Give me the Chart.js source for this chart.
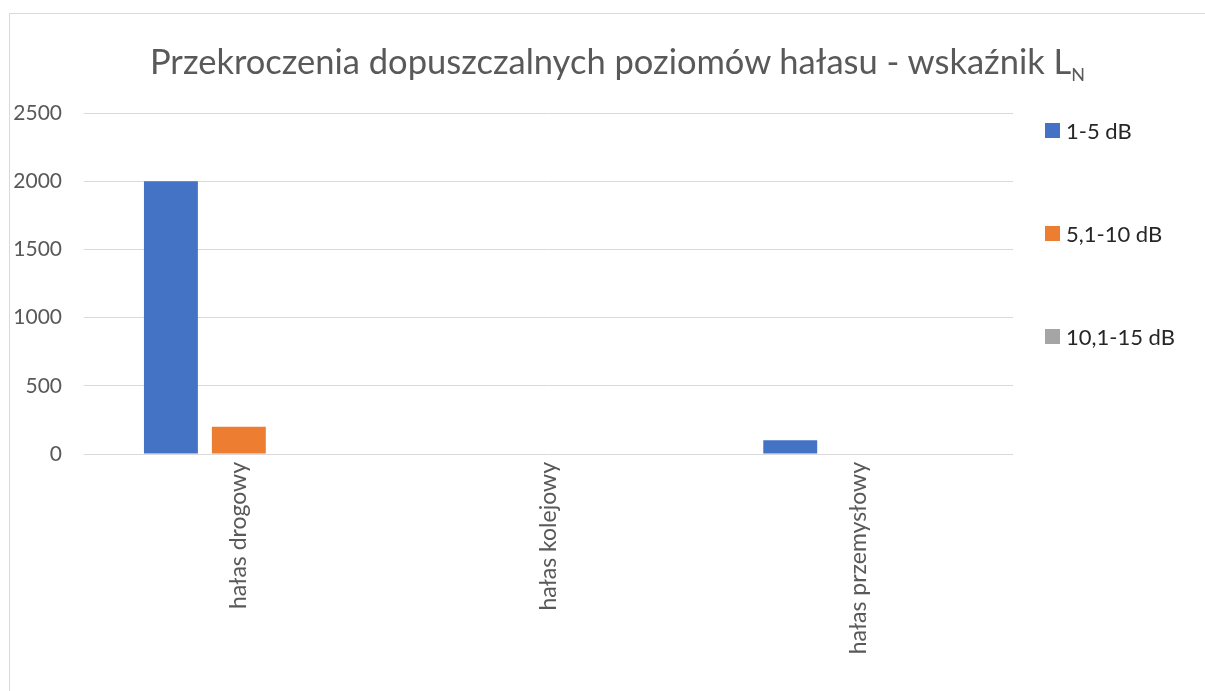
<!DOCTYPE html>
<html>
<head>
<meta charset="utf-8">
<script src="https://cdn.jsdelivr.net/npm/chart.js@4"></script>
<style>
  body { margin: 0; background: #fff; }
  #wrap { position: relative; width: 1205px; height: 691px; overflow: hidden; }
  #frame { position: absolute; left: 9px; top: 13px; width: 1300px; height: 800px; border: 1px solid #d9d9d9; box-sizing: border-box; }
  #title { position: absolute; left: 0; width: 1235px; top: 61px; text-align: center; font-family: Lato, sans-serif; font-size: 34.5px; line-height: 0; color: #595959; white-space: nowrap; }
  #title sub { font-size: 18px; vertical-align: -7px; line-height: 0; }
  #legend { position: absolute; left: 1045px; top: 0; font-family: Lato, sans-serif; font-size: 22px; color: #262626; }
  .item { position: absolute; left: 0; white-space: nowrap; display: flex; align-items: center; height: 26px; }
  .box { width: 15px; height: 15px; margin-right: 6px; }
  canvas { position: absolute; left: 0; top: 0; }
</style>
</head>
<body>
<div id="wrap">
  <div id="frame"></div>
  <canvas id="chartData" width="1205" height="691"></canvas>
  <div id="title">Przekroczenia dopuszczalnych poziomów hałasu - wskaźnik L<sub>N</sub></div>
  <div id="legend"></div>
</div>
<script>
var categories = ['hałas drogowy', 'hałas kolejowy', 'hałas przemysłowy'];
var seriesNames = ['1-5 dB', '5,1-10 dB', '10,1-15 dB'];
var seriesColors = ['#4472C4', '#ED7D31', '#A5A5A5'];
var lowData = [2000, 0, 100];     // 1-5 dB
var midData = [200, 0, 0];        // 5,1-10 dB
var highData = [0, 0, 0];         // 10,1-15 dB
var yTicks = [0, 500, 1000, 1500, 2000, 2500];

var ctx = document.getElementById('chartData').getContext('2d');
var fontFamily = 'Lato, sans-serif';

var chartData = new Chart(ctx, {
    type: 'bar',
    data: {
        labels: categories,
        datasets: [lowData, midData, highData].map(function (d, i) {
            return {
                label: seriesNames[i],
                data: d,
                backgroundColor: seriesColors[i],
                borderWidth: 0,
                barPercentage: 0.794,
                categoryPercentage: 0.658
            };
        })
    },
    options: {
        responsive: false,
        animation: false,
        layout: { padding: { top: 113, right: 192, left: 0, bottom: 0 } },
        plugins: {
            legend: { display: false },
            title: { display: false },
            tooltip: { enabled: false }
        },
        scales: {
            x: {
                grid: { display: false, drawTicks: false },
                border: { display: false },
                ticks: {
                    minRotation: 90,
                    maxRotation: 90,
                    padding: 8,
                    color: '#595959',
                    font: { family: fontFamily, size: 23 }
                },
                afterFit: function (scale) { scale.height = 237; }
            },
            y: {
                min: yTicks[0],
                max: yTicks[yTicks.length - 1],
                afterBuildTicks: function (scale) {
                    scale.ticks = yTicks.map(function (v) { return { value: v }; });
                },
                grid: { color: '#d9d9d9', lineWidth: 1, drawTicks: false },
                border: { display: false },
                ticks: {
                    padding: 22,
                    color: '#595959',
                    font: { family: fontFamily, size: 21 },
                    callback: function (v) { return String(v); }
                },
                afterFit: function (scale) { scale.width = 84; }
            }
        }
    }
});

// legend built from the chart's own legend items
var legendTops = [130, 233, 336];
var legendEl = document.getElementById('legend');
chartData.options.plugins.legend.labels.generateLabels(chartData).forEach(function (item, i) {
    var row = document.createElement('div');
    row.className = 'item';
    row.style.top = (legendTops[i] - 13) + 'px';
    row.innerHTML = '<span class="box" style="background:' + item.fillStyle + '"></span>' + item.text;
    legendEl.appendChild(row);
});
</script>
</body>
</html>
